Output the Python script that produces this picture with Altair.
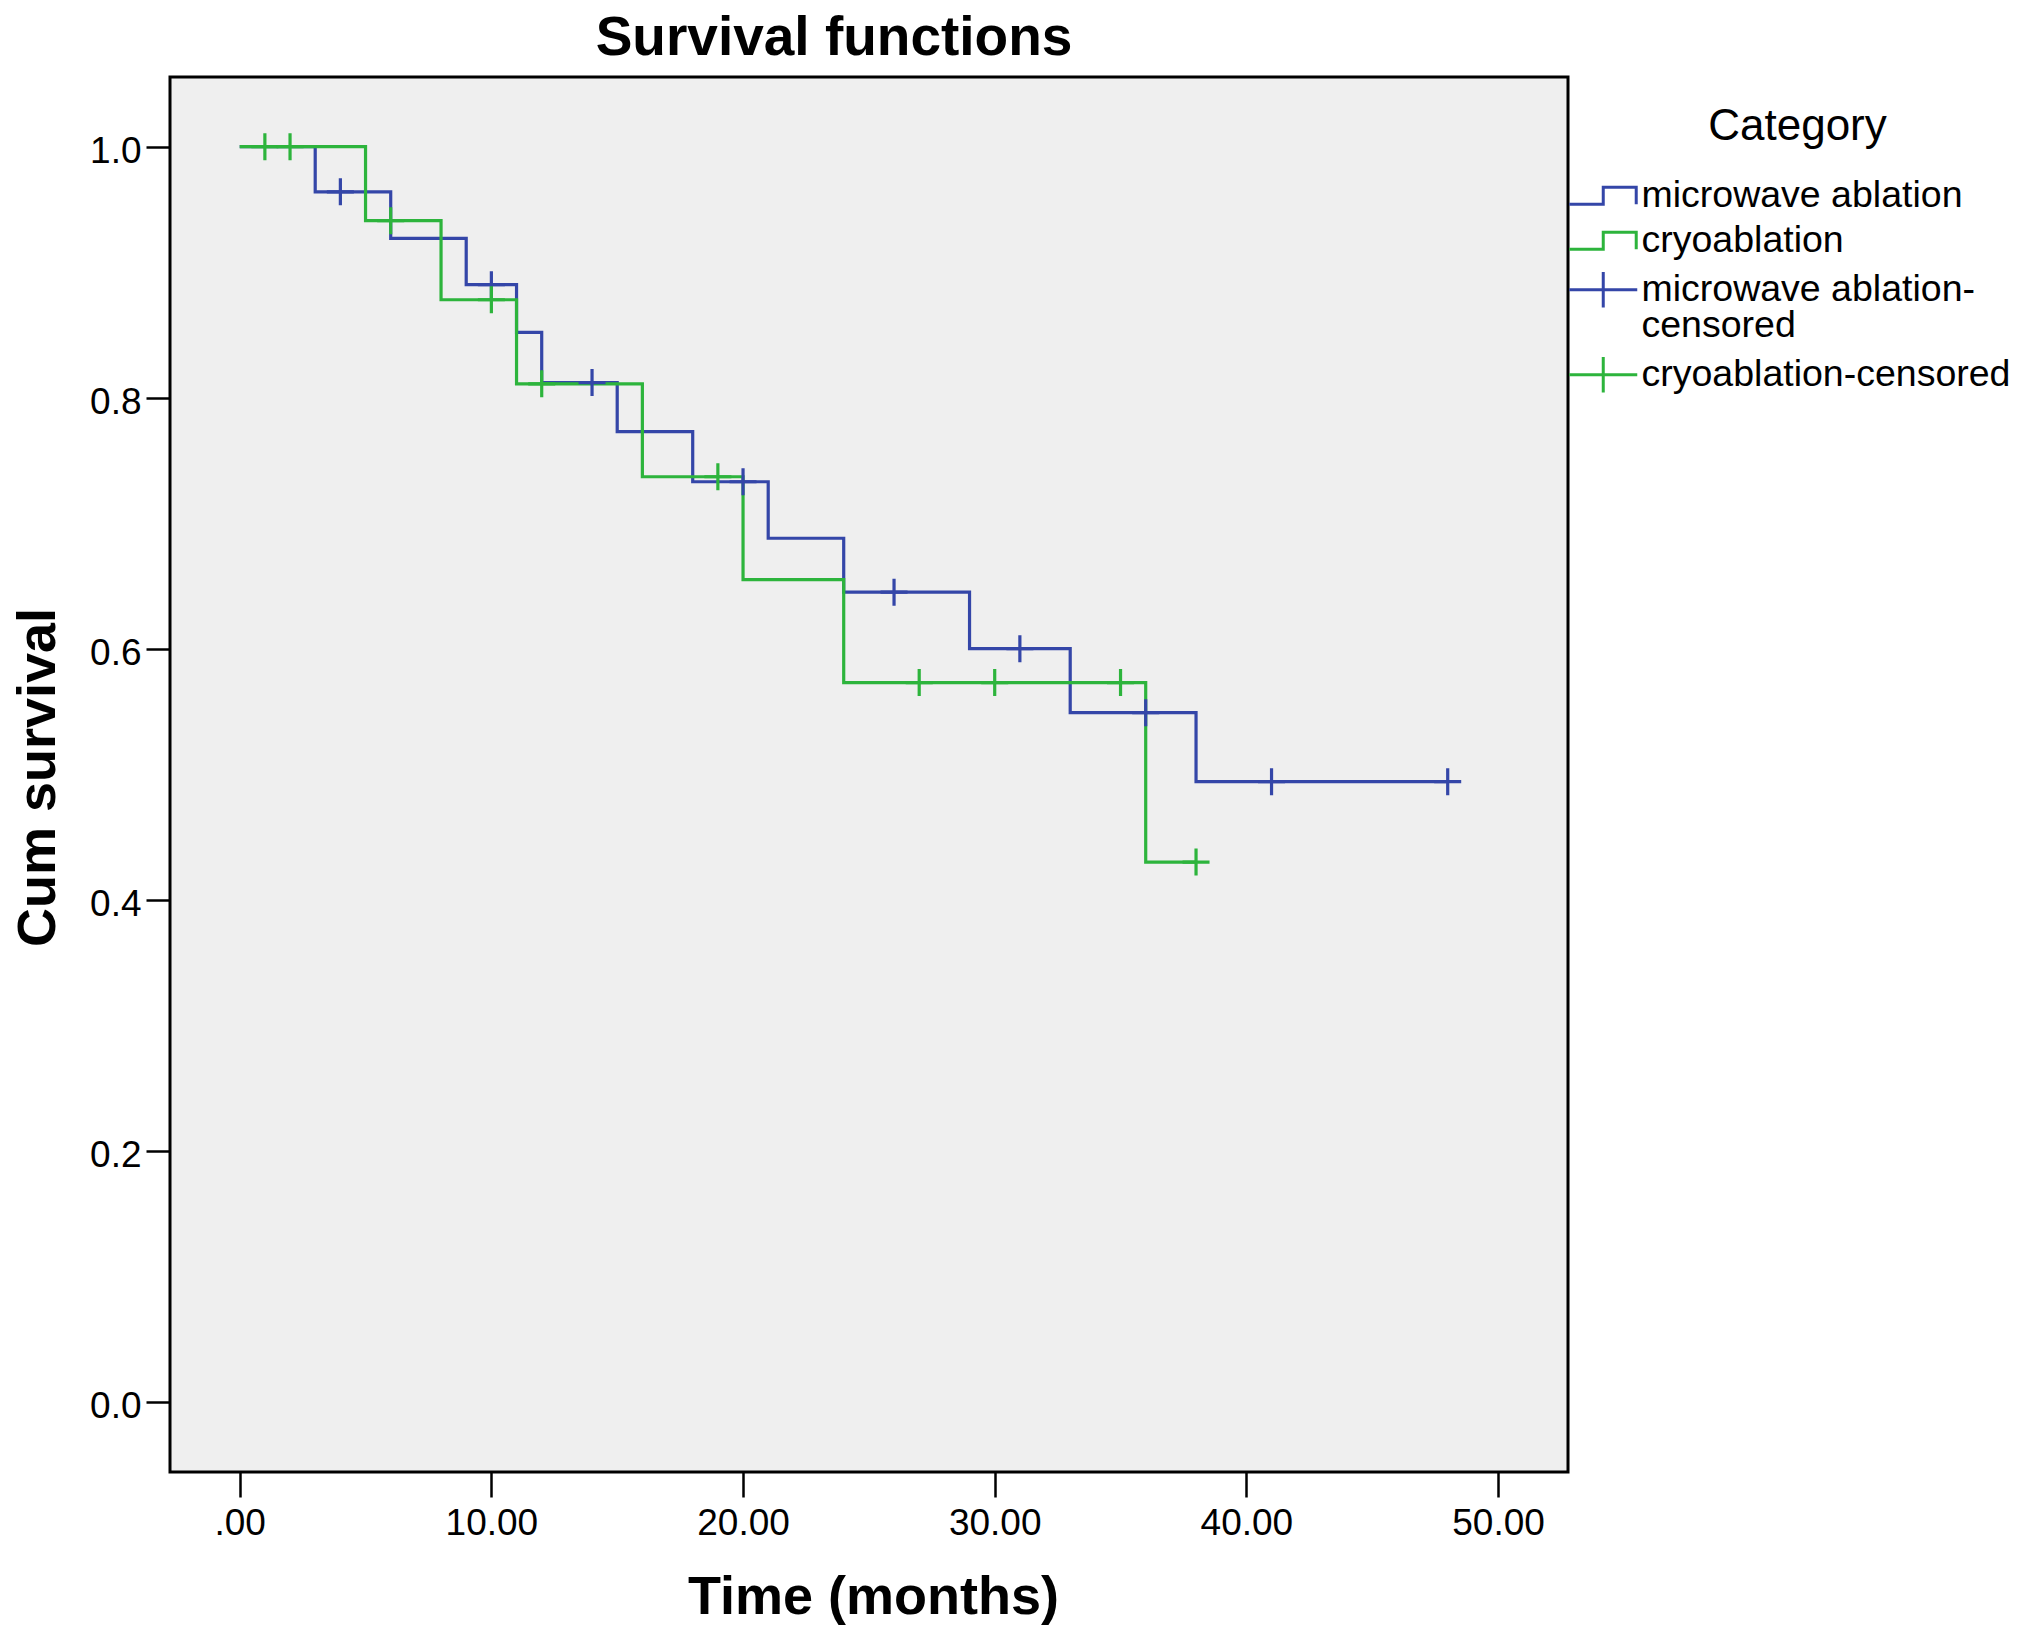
import altair as alt
import pandas as pd

FONT = "Liberation Sans"
BLUE = "#3446A8"
GREEN = "#2DB43C"

groups = ["microwave ablation", "cryoablation"]
censored_keys = ["microwave ablation-censored", "cryoablation-censored"]
legend_keys = [groups[0], groups[1], censored_keys[0], censored_keys[1]]

# Kaplan-Meier steps (time in months, cumulative survival)
mw_time = [0, 3, 6, 9, 11, 12, 15, 18, 21, 24, 29, 33, 38, 48]
mw_surv = [1.0, 0.964, 0.927, 0.890, 0.852, 0.812, 0.773, 0.733, 0.688, 0.645, 0.600, 0.549, 0.494, 0.494]
cr_time = [0, 5, 8, 11, 16, 20, 24, 36, 38]
cr_surv = [1.0, 0.941, 0.878, 0.811, 0.737, 0.655, 0.573, 0.430, 0.430]

# censored observations
mw_cens_time = [4, 10, 14, 20, 26, 31, 36, 41, 48]
mw_cens_surv = [0.964, 0.890, 0.812, 0.733, 0.645, 0.600, 0.549, 0.494, 0.494]
cr_cens_time = [1, 2, 6, 10, 12, 19, 27, 30, 35, 38]
cr_cens_surv = [1.0, 1.0, 0.941, 0.878, 0.811, 0.737, 0.573, 0.573, 0.573, 0.430]

x_ticks = [0, 10, 20, 30, 40, 50]
y_ticks = [0.0, 0.2, 0.4, 0.6, 0.8, 1.0]

steps = pd.concat([
    pd.DataFrame({"time": mw_time, "surv": mw_surv, "key": groups[0]}),
    pd.DataFrame({"time": cr_time, "surv": cr_surv, "key": groups[1]}),
], ignore_index=True)
cens = pd.concat([
    pd.DataFrame({"time": mw_cens_time, "surv": mw_cens_surv, "key": censored_keys[0]}),
    pd.DataFrame({"time": cr_cens_time, "surv": cr_cens_surv, "key": censored_keys[1]}),
], ignore_index=True)
allpts = pd.concat([steps, cens], ignore_index=True)

x_enc = alt.X(
    "time:Q",
    scale=alt.Scale(domain=[-2.77, 52.78], nice=False, zero=False),
    axis=alt.Axis(
        values=x_ticks, labelExpr="datum.value == 0 ? '.00' : format(datum.value, '.2f')",
        domain=False, grid=False, ticks=True, tickSize=25, tickWidth=2.5, tickColor="black",
        labelFont=FONT, labelFontSize=37, labelColor="black", labelPadding=8, labelFlush=False,
        title="Time (months)", titleFont=FONT, titleFontSize=54, titleFontWeight="bold",
        titleColor="black", titleX=703, titleY=141, titleAlign="center", titleBaseline="alphabetic",
    ),
)
y_enc = alt.Y(
    "surv:Q",
    scale=alt.Scale(domain=[-0.056, 1.0555], nice=False, zero=False),
    axis=alt.Axis(
        values=y_ticks, format=".1f",
        domain=False, grid=False, ticks=True, tickSize=24, tickWidth=2.5, tickColor="black",
        labelFont=FONT, labelFontSize=37, labelColor="black", labelPadding=5, labelOffset=5,
        labelFlush=False,
        title="Cum survival", titleFont=FONT, titleFontSize=54, titleFontWeight="bold",
        titleColor="black", titleX=-116, titleY=700, titleAngle=270, titleAlign="center",
        titleBaseline="alphabetic",
    ),
)

# legend symbols (unit = 17 px)
step_path = "M -2 0.5 L 0 0.5 L 0 -0.5 L 1.94 -0.5 L 1.94 0.5"
legend_cross = "M -2 0 L 2 0 M 0 -1.04 L 0 1.04"
plot_cross = "M -1 0 L 1 0 M 0 -1 L 0 1"

line_mw = alt.Chart(steps).transform_filter(alt.datum.key == groups[0]).mark_line(
    interpolate="step-after", color=BLUE, strokeWidth=3.2).encode(x=x_enc, y=y_enc)
line_cr = alt.Chart(steps).transform_filter(alt.datum.key == groups[1]).mark_line(
    interpolate="step-after", color=GREEN, strokeWidth=3.2).encode(x=x_enc, y=y_enc)

cens_mw = alt.Chart(cens).transform_filter(alt.datum.key == censored_keys[0]).mark_point(
    shape=plot_cross, size=729, filled=False, color=BLUE, strokeWidth=3.2, opacity=1).encode(x=x_enc, y=y_enc)
cens_cr = alt.Chart(cens).transform_filter(alt.datum.key == censored_keys[1]).mark_point(
    shape=plot_cross, size=729, filled=False, color=GREEN, strokeWidth=3.2, opacity=1).encode(x=x_enc, y=y_enc)

leg = alt.Legend(
    title="Category", orient="none", legendX=1414.5, legendY=28, direction="vertical",
    titleFont=FONT, titleFontSize=44, titleFontWeight="normal", titleColor="black",
    titleAnchor="middle", titlePadding=28,
    labelFont=FONT, labelFontSize=37.5, labelColor="black", labelLimit=1000, labelOffset=19.5,
    symbolSize=1156, symbolStrokeWidth=3, symbolOpacity=1, symbolFillColor="transparent",
    padding=0, rowPadding=6,
    labelExpr="datum.label == 'microwave ablation-censored' ? ['microwave ablation-', 'censored'] : datum.label",
)

legend_layer = alt.Chart(allpts).mark_point(filled=False, opacity=0, strokeWidth=3).encode(
    x=x_enc, y=y_enc,
    color=alt.Color("key:N", scale=alt.Scale(domain=legend_keys, range=[BLUE, GREEN, BLUE, GREEN]), legend=leg),
    shape=alt.Shape("key:N", scale=alt.Scale(domain=legend_keys,
                    range=[step_path, step_path, legend_cross, legend_cross]), legend=leg),
)

chart = alt.layer(legend_layer, line_mw, line_cr, cens_mw, cens_cr).properties(
    width=1398, height=1395,
    title=alt.TitleParams(
        "Survival functions", font=FONT, fontSize=55, fontWeight="bold", color="black",
        anchor="middle", dx=-35, dy=58, offset=25, baseline="alphabetic", frame="group",
    ),
    autosize=alt.AutoSizeParams(type="none"),
    padding={"left": 162, "top": 69, "right": 450, "bottom": 154},
).configure(
    style={"guide-label": {"lineHeight": 36}}
).configure_view(
    fill="#EFEFEF", stroke="black", strokeWidth=3
)

chart.save("out.html", embed_options={"renderer": "svg", "actions": False})
